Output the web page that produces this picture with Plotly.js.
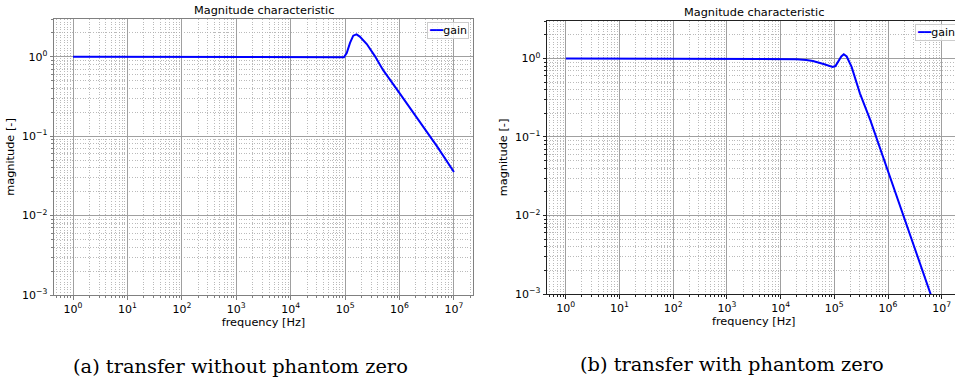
<!DOCTYPE html>
<html><head><meta charset="utf-8">
<script src="https://cdn.plot.ly/plotly-3.0.1.min.js"></script>
<style>html,body{margin:0;padding:0;overflow:hidden;background:#fff}#chart{width:961px;height:378px}</style>
</head><body><div id="chart"></div>
<script>
// ---- data ----
const freqA = [1, 10, 100, 1e3, 1e4, 5e4, 8e4, 9.5e4, 1.07e5, 1.23e5, 1.41e5, 1.62e5, 1.86e5, 2.5e5, 3.5e5, 5e5, 1e6, 2e6, 5e6, 1e7];
const gainA = [1, 1, 1, 1, 1, 1, 0.995, 0.99, 1.12, 1.5, 1.85, 1.92, 1.8, 1.45, 1.03, 0.68, 0.35, 0.18, 0.073, 0.0355];
const freqB = [1, 10, 100, 1e3, 5e3, 1e4, 2e4, 3e4, 4e4, 6.3e4, 8e4, 9.3e4, 1.05e5, 1.2e5, 1.35e5, 1.5e5, 1.7e5, 2.1e5, 3e5, 4.7e5, 1e6, 2e6, 5e6, 1e7];
const gainB = [1, 1, 1, 1, 0.998, 0.995, 0.98, 0.955, 0.93, 0.85, 0.8, 0.78, 0.8, 0.93, 1.06, 1.13, 1.06, 0.78, 0.36, 0.163, 0.0366, 0.0094, 0.00155, 0.00039];
const xTickVals = [1, 10, 100, 1e3, 1e4, 1e5, 1e6, 1e7];
const xTickText = ['10<sup>0</sup>','10<sup>1</sup>','10<sup>2</sup>','10<sup>3</sup>','10<sup>4</sup>','10<sup>5</sup>','10<sup>6</sup>','10<sup>7</sup>'];
const yTickVals = [1e-3, 1e-2, 1e-1, 1];
const yTickText = ['10<sup>\u22123</sup>','10<sup>\u22122</sup>','10<sup>\u22121</sup>','10<sup>0</sup>'];
const panelTitle = 'Magnitude characteristic';
const xTitle = 'frequency [Hz]';
const yTitle = 'magnitude [-]';
const seriesName = 'gain';
const captions = ['(a) transfer without phantom zero', '(b) transfer with phantom zero'];

// ---- layout ----
const W = 961, H = 378;
const FONT = 'DejaVu Sans, sans-serif';
const px = v => v / W, py = v => 1 - v / H;
const panels = [
  {l: 54, r: 473, t: 19, b: 295, spine: '#808080', cap: 240, capY: 366},
  {l: 547, r: 960.5, t: 21, b: 294, spine: '#222222', cap: 732, capY: 364}
];
const minorGrid = {tickmode: 'linear', dtick: 'D1', ticks: 'outside', ticklen: 2,
  showgrid: true, gridcolor: '#a9a9a9', griddash: '1px,1.6px', gridwidth: 0.8};

function xAxis(p, anchor) {
  return {
    type: 'log', range: [-0.35, 7.35], domain: [px(p.l), px(p.r)], anchor: anchor,
    tickmode: 'array', tickvals: xTickVals, ticktext: xTickText,
    ticks: 'outside', ticklen: 3.5, tickwidth: 1, tickcolor: p.spine,
    showline: true, mirror: true, linecolor: p.spine, linewidth: 1,
    showgrid: true, gridcolor: '#a0a0a0', gridwidth: 1,
    zeroline: false,
    tickfont: {family: FONT, size: 11, color: '#000'},
    title: {text: xTitle, font: {family: FONT, size: 11.3, color: '#000'}, standoff: 3},
    minor: Object.assign({tickcolor: p.spine}, minorGrid)
  };
}
function yAxis(p, anchor) {
  return {
    type: 'log', range: [-3, Math.log10(3)], domain: [py(p.b), py(p.t)], anchor: anchor,
    tickmode: 'array', tickvals: yTickVals, ticktext: yTickText,
    ticks: 'outside', ticklen: 3.5, tickwidth: 1, tickcolor: p.spine,
    showline: true, mirror: true, linecolor: p.spine, linewidth: 1,
    showgrid: true, gridcolor: '#a0a0a0', gridwidth: 1,
    zeroline: false,
    tickfont: {family: FONT, size: 11, color: '#000'},
    title: {text: yTitle, font: {family: FONT, size: 11.3, color: '#000'}, standoff: 5},
    minor: Object.assign({tickcolor: p.spine}, minorGrid)
  };
}

const traces = [
  {x: freqA, y: gainA, type: 'scatter', mode: 'lines', name: seriesName, xaxis: 'x', yaxis: 'y',
   line: {color: '#0000ff', width: 2}, showlegend: false},
  {x: freqB, y: gainB, type: 'scatter', mode: 'lines', name: seriesName, xaxis: 'x2', yaxis: 'y2',
   line: {color: '#0000ff', width: 2}, showlegend: false}
];

const annotations = [];
panels.forEach((p, i) => {
  annotations.push({text: panelTitle, xref: 'paper', yref: 'paper', x: px((p.l + p.r) / 2), y: py(p.t - 9),
    xanchor: 'center', yanchor: 'middle', showarrow: false, font: {family: FONT, size: 11.3, color: '#000'}});
  annotations.push({text: captions[i], xref: 'paper', yref: 'paper', x: px(p.cap), y: py(p.capY),
    xanchor: 'center', yanchor: 'middle', showarrow: false,
    font: {family: 'DejaVu Serif, serif', size: 19.4, color: '#000'}});
  // legend box
  annotations.push({text: '<span style="color:#0000ff">\u2501\u2501</span>' + seriesName,
    xref: 'paper', yref: 'paper', x: px(p.r - 4), y: py(p.t + 3.3), xanchor: 'right', yanchor: 'top',
    showarrow: false, align: 'left', font: {family: FONT, size: 11, color: '#000'},
    bgcolor: 'rgba(255,255,255,0.8)', bordercolor: '#cccccc', borderwidth: 1, borderpad: 1});
});

const layout = {
  width: W, height: H, margin: {l: 0, r: 0, t: 0, b: 0},
  paper_bgcolor: '#fff', plot_bgcolor: '#fff', showlegend: false,
  xaxis: xAxis(panels[0], 'y'), yaxis: yAxis(panels[0], 'x'),
  xaxis2: xAxis(panels[1], 'y2'), yaxis2: yAxis(panels[1], 'x2'),
  annotations: annotations
};
Plotly.newPlot('chart', traces, layout, {displayModeBar: false, staticPlot: true});
</script></body></html>
